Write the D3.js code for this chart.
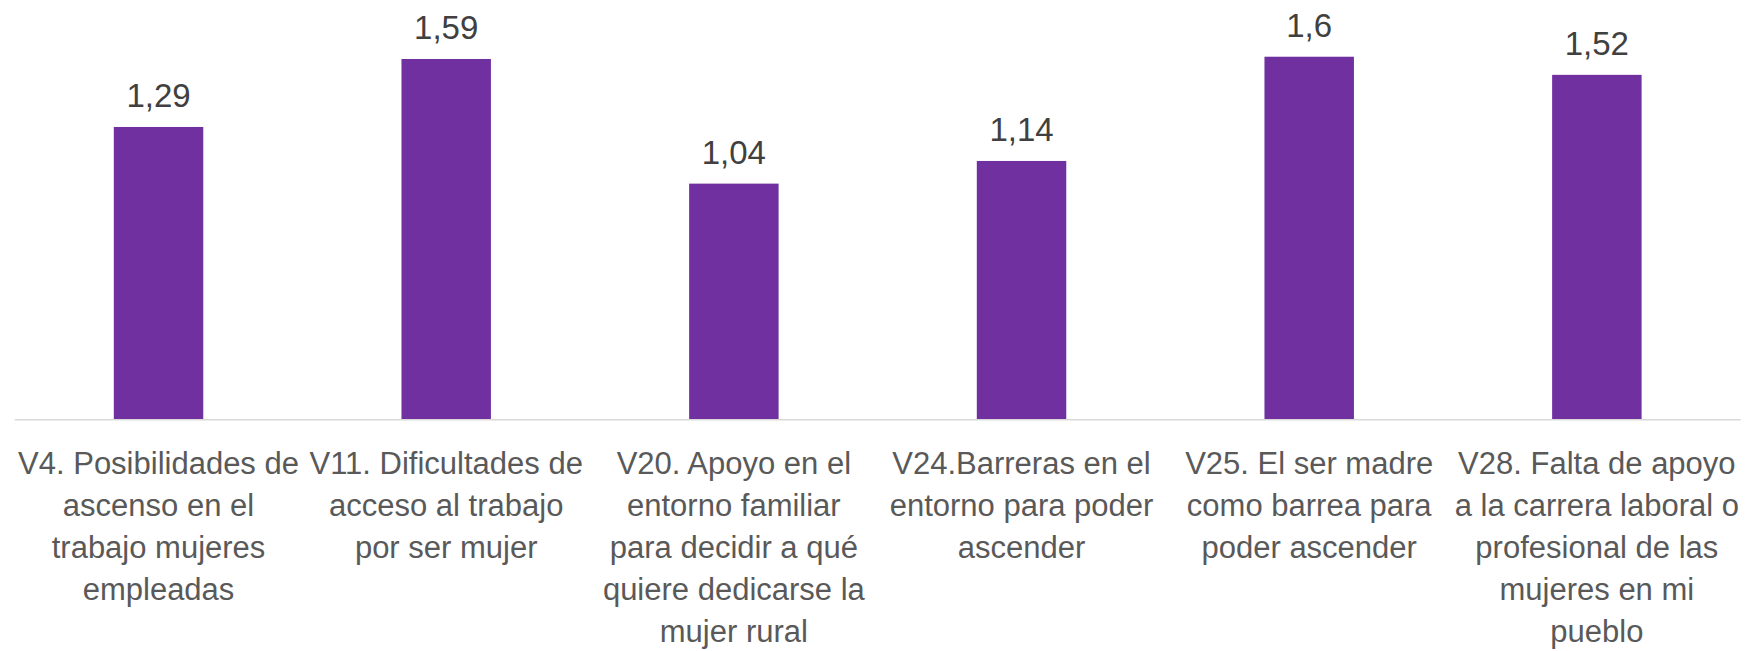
<!DOCTYPE html>
<html>
<head>
<meta charset="utf-8">
<script src="https://cdn.jsdelivr.net/npm/d3@7"></script>
<style>
  body { margin: 0; background: #fff; }
  text { font-family: "Liberation Sans", Arial, sans-serif; }
</style>
</head>
<body>
<svg width="1751" height="651"></svg>
<script>
const categories = [
  ['V4. Posibilidades de', 'ascenso en el', 'trabajo mujeres', 'empleadas'],
  ['V11. Dificultades de', 'acceso al trabajo', 'por ser mujer'],
  ['V20. Apoyo en el', 'entorno familiar', 'para decidir a qué', 'quiere dedicarse la', 'mujer rural'],
  ['V24.Barreras en el', 'entorno para poder', 'ascender'],
  ['V25. El ser madre', 'como barrea para', 'poder ascender'],
  ['V28. Falta de apoyo', 'a la carrera laboral o', 'profesional de las', 'mujeres en mi', 'pueblo']
]
const values = [1.29, 1.59, 1.04, 1.14, 1.6, 1.52]
const labels = ['1,29', '1,59', '1,04', '1,14', '1,6', '1,52']

const svg = d3.select('svg')
const margin = { top: 11.4, right: 10.3, bottom: 231.7, left: 14.7 }
const width = svg.attr('width') - margin.left - margin.right
const height = svg.attr('height') - margin.top - margin.bottom

const g = svg
  .append('g')
  .attr('transform', 'translate(' + margin.left + ',' + margin.top + ')')

const x = d3
  .scaleBand()
  .domain(d3.range(values.length))
  .range([0, width])
  .paddingInner(0.689)
  .paddingOuter(0.3445)

const y = d3
  .scaleLinear()
  .domain([0, 1.8])
  .range([height, 0])

g.append('g')
  .selectAll('rect')
  .data(values)
  .enter()
  .append('rect')
  .attr('x', (d, i) => x(i))
  .attr('y', d => y(d))
  .attr('width', x.bandwidth())
  .attr('height', d => height - y(d))
  .attr('fill', '#7030a0')

g.append('line')
  .attr('x1', 0)
  .attr('x2', width)
  .attr('y1', height + 0.5)
  .attr('y2', height + 0.5)
  .attr('stroke', '#d9d9d9')
  .attr('stroke-width', 1.5)

g.append('g')
  .selectAll('text')
  .data(values)
  .enter()
  .append('text')
  .attr('x', (d, i) => x(i) + x.bandwidth() / 2)
  .attr('y', d => y(d) - 20)
  .attr('text-anchor', 'middle')
  .attr('font-size', 33)
  .attr('fill', '#404040')
  .text((d, i) => labels[i])

const cat = g
  .append('g')
  .selectAll('text')
  .data(categories)
  .enter()
  .append('text')
  .attr('text-anchor', 'middle')
  .attr('font-size', 31)
  .attr('fill', '#595959')

cat
  .selectAll('tspan')
  .data((d, i) => d.map(line => ({ line, i })))
  .enter()
  .append('tspan')
  .attr('x', d => x(d.i) + x.bandwidth() / 2)
  .attr('y', (d, j) => height + 55 + j * 42)
  .text(d => d.line)
</script>
</body>
</html>
